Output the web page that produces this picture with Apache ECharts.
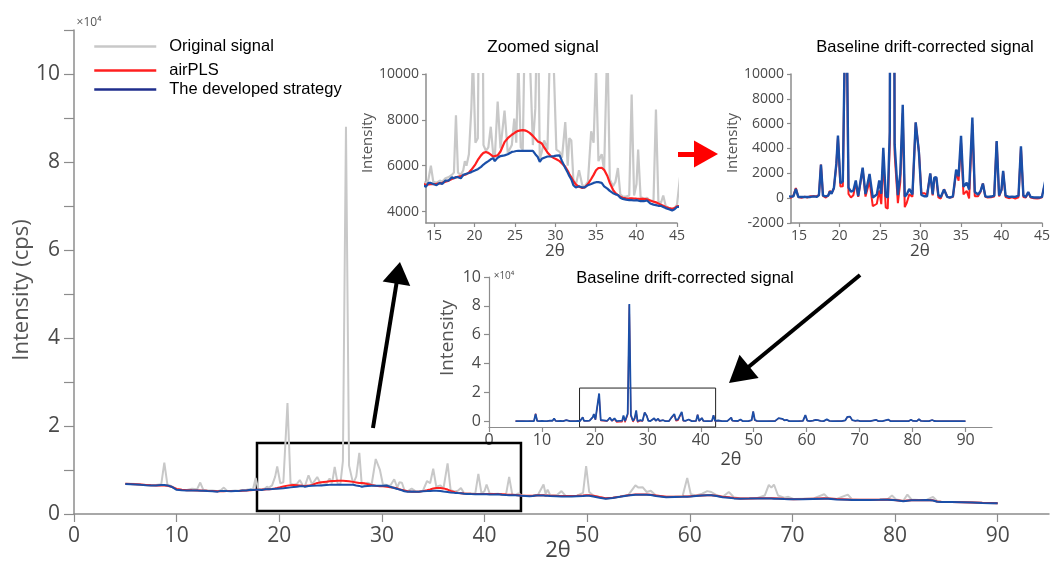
<!DOCTYPE html>
<html lang="en">
<head>
<meta charset="UTF-8">
<title>Baseline drift correction</title>
<style>
  html, body { margin: 0; padding: 0; background: #fff; }
  #main { width: 1051px; height: 569px; }
</style>
<script src="https://cdn.jsdelivr.net/npm/echarts@6.0.0/dist/echarts.min.js"></script>
</head>
<body>
<div id="main"></div>
<script>
// 2θ positions (shared by every series)
const theta = [
  5, 5.5, 6, 6.5, 7, 7.5, 8, 8.5,
  8.8, 9.1, 9.5, 10, 10.5, 11, 11.5, 12,
  12.3, 12.6, 13, 13.5, 14,
  14.3, 14.6, 14.9, 15.3, 15.7, 16.0, 16.4, 16.8,
  17.2, 17.45, 17.7, 17.95, 18.3, 18.6, 18.8, 19.0,
  19.3, 19.6, 19.8, 20.1, 20.4, 20.8, 21.1, 21.4,
  21.7, 22.0, 22.3, 22.5, 22.85, 23.2, 23.7, 24.1,
  24.6, 24.9, 25.15, 25.4, 25.7, 25.95, 26.2, 26.5,
  26.8, 27.2, 27.5, 27.8, 28.05, 28.3, 28.6, 29.0,
  29.4, 29.8, 30.1, 30.5, 30.8, 31.2, 31.5, 31.7,
  31.95, 32.2, 32.5, 32.9, 33.3, 33.6, 34.0, 34.4,
  34.7, 35.0, 35.3, 35.7, 36.0, 36.4, 36.7, 37.1,
  37.4, 37.7, 38.0, 38.3, 38.7, 39.1, 39.4, 39.7,
  40.0, 40.2, 40.5, 40.9, 41.3, 41.7, 42.1, 42.4,
  42.7, 43.0, 43.3, 43.6, 44.0, 44.4, 44.7, 45.0,
  45.2, 45.75, 45.95, 46.15, 46.4, 47.0, 47.5, 47.9, 48.5,
  49.0, 49.6, 49.9, 50.2, 50.6, 51.2, 51.8, 52.5,
  53.2, 54.0, 54.7, 55.0, 55.4, 55.8, 56.2, 56.7,
  57.7, 58.5, 59.3, 59.75, 60.1, 60.6, 61.2, 61.7,
  62.1, 62.6, 63.2, 63.8, 64.3, 64.9, 65.8, 66.6,
  67.3, 67.7, 67.95, 68.2, 68.6, 69.2, 69.6, 70.1,
  71.0, 72.0, 73.1, 73.5, 74.3, 75.4, 75.8, 76.5,
  77.5, 78.5, 79.3, 79.7, 80.1, 80.8, 81.2, 81.6,
  82.3, 83.1, 83.7, 84.1, 84.5, 85.5, 86.5, 87.5,
  88.5, 89.3, 90.0
];

// raw intensity (cps)
const originalSignal = [
  6900, 6850, 6800, 6700, 6600, 6550, 6600, 6750,
  11700, 6700, 6300, 5650, 5500, 5480, 5750, 5650,
  7150, 5500, 5350, 5350, 5200,
  5400, 6000, 5300, 5250, 5350, 5300, 5450, 5500,
  5600, 5700, 8200, 5700, 5600, 5800, 6200, 6000,
  6500, 8500, 10800, 7000, 7200, 25200, 6900, 6650,
  6800, 7700, 6500, 6350, 8800, 6750, 8400, 6550,
  6900, 8050, 7000, 10700, 6800, 6700, 12000, 88000,
  11000, 6900, 8500, 13900, 6300, 6600, 7100, 6700,
  12500, 10100, 6700, 6600, 6350, 7900, 6000, 7200,
  7100, 5400, 5150, 5800, 5150, 5100, 5300, 7500,
  7000, 10300, 6200, 6500, 5800, 11500, 5400, 5100,
  5300, 5900, 4750, 4650, 4650, 4700, 9100, 4700,
  5200, 6700, 4650, 4550, 4600, 4450, 4500, 8450,
  4450, 4350, 4700, 4250, 4150, 4100, 4150, 4300,
  4300, 6700, 4600, 5500, 4300, 4200, 5200, 4100, 4100,
  4150, 4800, 10900, 5000, 4200, 3800, 3550, 3700,
  4000, 4300, 6500, 6000, 6100, 5000, 5300, 4200,
  3900, 3950, 4100, 8200, 4500, 4200, 4600, 5200,
  5000, 4300, 3900, 5000, 3800, 3550, 3600, 3650,
  4200, 6600, 6000, 6700, 4200, 3700, 3900, 3400,
  3450, 3500, 4500, 3600, 3400, 4400, 3350, 3250,
  3250, 3300, 3400, 4200, 3300, 3000, 4400, 3300,
  3200, 3250, 3900, 2950, 2800, 2750, 2700, 2650,
  2550, 2500, 2450
];

// baseline found by the developed strategy
const developedBaseline = [
  6800, 6750, 6700, 6620, 6520, 6450, 6480, 6600,
  6600, 6500, 6200, 5500, 5400, 5350, 5350, 5320,
  5300, 5300, 5220, 5180, 5080,
  5250, 5250, 5200, 5150, 5250, 5200, 5350, 5350,
  5500, 5450, 5500, 5500, 5450, 5600, 5650, 5650,
  5680, 5720, 5750, 5800, 5850, 5950, 6050, 6130,
  6200, 6280, 6330, 6200, 6350, 6420, 6450, 6500,
  6600, 6620, 6640, 6650, 6650, 6650, 6650, 6650,
  6650, 6650, 6500, 6380, 6170, 6300, 6350, 6400,
  6400, 6420, 6440, 6450, 6200, 5900, 5700, 5550,
  5400, 5150, 5050, 5100, 5050, 5050, 5150, 5200,
  5250, 5280, 5280, 5250, 5100, 5000, 4900, 4800,
  4750, 4720, 4600, 4550, 4520, 4500, 4500, 4480,
  4500, 4500, 4450, 4450, 4480, 4350, 4300, 4280,
  4250, 4250, 4200, 4150, 4100, 4050, 4100, 4200,
  4220, 4200, 4170, 4150, 4100, 4050, 4000, 4000, 4000,
  4050, 4100, 4150, 4150, 4000, 3700, 3480, 3650,
  3900, 4200, 4350, 4400, 4400, 4350, 4300, 4100,
  3790, 3850, 3900, 3940, 4000, 4100, 4200, 4240,
  4250, 4100, 3800, 3700, 3550, 3480, 3500, 3550,
  3550, 3520, 3500, 3480, 3450, 3400, 3380, 3330,
  3350, 3420, 3480, 3450, 3300, 3250, 3200, 3180,
  3200, 3220, 3250, 3200, 3100, 2880, 3000, 3100,
  3150, 3180, 3050, 2800, 2730, 2700, 2650, 2600,
  2500, 2450, 2420
];

// baseline found by airPLS
const airplsBaseline = [
  6850, 6800, 6750, 6680, 6600, 6520, 6500, 6520,
  6500, 6420, 6200, 5700, 5500, 5420, 5370, 5330,
  5320, 5300, 5260, 5220, 5160,
  5180, 5190, 5200, 5210, 5230, 5250, 5300, 5350,
  5420, 5460, 5490, 5520, 5550, 5580, 5600, 5630,
  5700, 5820, 5900, 6060, 6250, 6450, 6560, 6600,
  6560, 6480, 6400, 6390, 6450, 6620, 7030, 7200,
  7350, 7420, 7480, 7520, 7540, 7550, 7540, 7500,
  7430, 7300, 7180, 7060, 7020, 6970, 6800, 6580,
  6420, 6330, 6280, 6200, 6100, 5950, 5780, 5640,
  5490, 5330, 5180, 5080, 5030, 5050, 5200, 5420,
  5600, 5800, 5900, 5910, 5820, 5550, 5250, 4950,
  4800, 4720, 4640, 4600, 4580, 4570, 4570, 4565,
  4560, 4560, 4555, 4550, 4530, 4480, 4430, 4400,
  4350, 4300, 4250, 4200, 4150, 4120, 4150, 4230,
  4250, 4240, 4220, 4200, 4170, 4120, 4100, 4100, 4100,
  4130, 4200, 4250, 4250, 4150, 3850, 3600, 3700,
  3950, 4250, 4420, 4460, 4460, 4420, 4350, 4200,
  3900, 3900, 3950, 4000, 4050, 4120, 4200, 4250,
  4260, 4150, 3900, 3800, 3650, 3550, 3550, 3580,
  3600, 3600, 3580, 3560, 3520, 3450, 3420, 3380,
  3400, 3480, 3560, 3540, 3400, 3300, 3260, 3230,
  3230, 3250, 3280, 3250, 3150, 2950, 3050, 3120,
  3150, 3180, 3100, 2850, 2770, 2720, 2680, 2630,
  2540, 2490, 2450
];

const fullTicks = [0, 10, 20, 30, 40, 50, 60, 70, 80, 90];
const zoomTicks = [15, 20, 25, 30, 35, 40, 45];
const zoomIntensityTicks = [4000, 6000, 8000, 10000];
const insetIntensityTicks = [0, 20000, 40000, 60000, 80000, 100000];

// annotations, in data units of the axes they sit on
const mainBox = [[17.83, 680], [43.55, 16130]];
const insetBox = [[17.1, -4000], [42.8, 23000]];
const arrowToZoom = [[29.13, 19540], [31.59, 54800]];
const arrowToInset = [[76.59, 54320], [64.8, 31660]];
const arrowRed = [[58.85, 81820], [61.58, 81820]];

const GREY = '#c8c8c8', RED = '#ff1f1f', BLUE = '#1a4fa8', AXIS = '#8c8c8c';

const pairs = arr => theta.map((t, i) => [t, arr[i]]);
const corrDeveloped = theta.map((t, i) => [t, originalSignal[i] - developedBaseline[i]]);
const corrAirpls = theta.map((t, i) => [t, originalSignal[i] - airplsBaseline[i]]);

function axis(gridIndex, min, max, o) {
  return {
    type: 'value', gridIndex: gridIndex, min: min, max: max, interval: o.interval,
    axisLine: { show: true, onZero: false, lineStyle: { color: AXIS, width: o.lineWidth || 1.5 } },
    axisTick: { show: true, length: o.tickLen, customValues: o.ticks, lineStyle: { color: AXIS, width: 1.2 } },
    axisLabel: { customValues: o.ticks, formatter: o.formatter || (v => String(v)), color: '#4a4a4a',
                 fontFamily: 'Open Sans', fontSize: o.fontSize, margin: o.margin },
    splitLine: { show: false }
  };
}

function line(name, data, color, width, grid, extra) {
  return Object.assign({
    name: name, type: 'line', data: data, xAxisIndex: grid, yAxisIndex: grid,
    symbol: 'none', showSymbol: false, silent: true, clip: true,
    lineStyle: { color: color, width: width }, itemStyle: { color: color }
  }, extra || {});
}

function text(str, x, y, size, opts) {
  opts = opts || {};
  return {
    type: 'text', x: x, y: y, rotation: opts.rotate ? Math.PI / 2 : 0, silent: true,
    style: { text: str, fontSize: size, fontFamily: opts.font || 'Open Sans',
             fill: opts.color || '#555', align: opts.align || 'center', verticalAlign: 'middle' }
  };
}

const legendBase = {
  orient: 'vertical', left: 93, itemWidth: 62, itemHeight: 14, padding: 0,
  itemStyle: { opacity: 0 },
  textStyle: { fontFamily: 'Liberation Sans', fontSize: 16.5, color: '#000', padding: [0, 0, 0, 8] }
};

const chart = echarts.init(document.getElementById('main'));
chart.setOption({
  animation: false,
  backgroundColor: '#fff',
  grid: [
    { left: 74, right: 2, top: 30, bottom: 55, outerBoundsMode: 'none' },
    { left: 426, top: 74, width: 251, height: 149, outerBoundsMode: 'none' },
    { left: 791, top: 74, width: 251, height: 149, outerBoundsMode: 'none' },
    { left: 489, top: 277, width: 503, height: 150, outerBoundsMode: 'none' }
  ],
  xAxis: [
    axis(0, 0, 95, { ticks: fullTicks, tickLen: 8, fontSize: 21, margin: 12 }),
    axis(1, 14, 45, { ticks: zoomTicks, tickLen: 4, fontSize: 14, margin: 6 }),
    axis(2, 14, 45, { ticks: zoomTicks, tickLen: 4, fontSize: 14, margin: 6 }),
    axis(3, 0, 95, { ticks: fullTicks, tickLen: 5, fontSize: 16, margin: 5, lineWidth: 1.2 })
  ],
  yAxis: [
    axis(0, 0, 110000, { interval: 10000, tickLen: 10, fontSize: 21, margin: 14,
      formatter: v => (v % 20000 === 0 && v <= 100000) ? String(v / 10000) : '' }),
    axis(1, 3500, 10000, { ticks: zoomIntensityTicks, tickLen: 4, fontSize: 14, margin: 7 }),
    axis(2, -2000, 10000, { interval: 2000, tickLen: 4, fontSize: 14, margin: 7 }),
    axis(3, -4000, 100000, { ticks: insetIntensityTicks, tickLen: 5, fontSize: 16, margin: 8, lineWidth: 1.2,
      formatter: v => String(v / 10000) })
  ],
  legend: [
    Object.assign({}, legendBase, { top: 38, data: [{ name: 'Original signal', lineStyle: { color: GREY, width: 2.5 } }] }),
    Object.assign({}, legendBase, { top: 62, data: [{ name: 'airPLS', lineStyle: { color: RED, width: 2.5 } }] }),
    Object.assign({}, legendBase, { top: 81, data: [{ name: 'The developed strategy', lineStyle: { color: '#1f2e8c', width: 2.5 } }] })
  ],
  series: [
    // main chart
    line('Original signal', pairs(originalSignal), GREY, 2, 0, {
      markArea: {
        silent: true, label: { show: false },
        itemStyle: { color: 'rgba(0,0,0,0)', borderColor: '#000', borderWidth: 2.5 },
        data: [[{ coord: mainBox[0] }, { coord: mainBox[1] }]]
      }
    }),
    line('airPLS', pairs(airplsBaseline), RED, 2, 0),
    line('The developed strategy', pairs(developedBaseline), BLUE, 2, 0, {
      markLine: {
        silent: true, symbol: ['none', 'triangle'], label: { show: false },
        emphasis: { disabled: true },
        lineStyle: { color: '#000', width: 4, type: 'solid' },
        data: [
          [{ coord: arrowToZoom[0] }, { coord: arrowToZoom[1], symbolSize: [28, 22] }],
          [{ coord: arrowToInset[0] }, { coord: arrowToInset[1], symbolSize: [30, 26] }],
          [{ coord: arrowRed[0], lineStyle: { color: '#ff0000', width: 5 } },
           { coord: arrowRed[1], symbolSize: [27, 24], lineStyle: { color: '#ff0000', width: 5 },
             itemStyle: { color: '#ff0000' } }]
        ]
      }
    }),
    // zoomed signal
    line('Original signal', pairs(originalSignal), GREY, 2.2, 1),
    line('airPLS', pairs(airplsBaseline), RED, 2.2, 1),
    line('The developed strategy', pairs(developedBaseline), BLUE, 2.2, 1),
    // corrected, zoomed
    line('airPLS', corrAirpls, RED, 2, 2),
    line('The developed strategy', corrDeveloped, BLUE, 2.4, 2),
    // corrected, full range
    line('airPLS', corrAirpls, RED, 1.2, 3),
    line('The developed strategy', corrDeveloped, BLUE, 1.8, 3, {
      markArea: {
        silent: true, label: { show: false },
        itemStyle: { color: 'rgba(0,0,0,0)', borderColor: '#222', borderWidth: 1 },
        data: [[{ coord: insetBox[0] }, { coord: insetBox[1] }]]
      }
    })
  ],
  graphic: { elements: [
    text('×10⁴', 89, 23, 12),
    text('Intensity (cps)', 22, 290, 22, { rotate: true }),
    text('2θ', 558, 551, 22, { color: '#444' }),
    text('Zoomed signal', 543, 47, 17, { font: 'Liberation Sans', color: '#000' }),
    text('Intensity', 368, 143, 15, { rotate: true }),
    text('2θ', 555, 251, 17, { color: '#444' }),
    text('Baseline drift-corrected signal', 925, 47, 16.5, { font: 'Liberation Sans', color: '#000' }),
    text('Intensity', 733, 143, 15, { rotate: true }),
    text('2θ', 920, 251, 17, { color: '#444' }),
    text('Baseline drift-corrected signal', 685, 278, 16.5, { font: 'Liberation Sans', color: '#000' }),
    text('Intensity', 448, 338, 19, { rotate: true }),
    text('2θ', 731, 460, 18, { color: '#444' }),
    text('×10⁴', 504, 276, 10)
  ] }
});
</script>
</body>
</html>
